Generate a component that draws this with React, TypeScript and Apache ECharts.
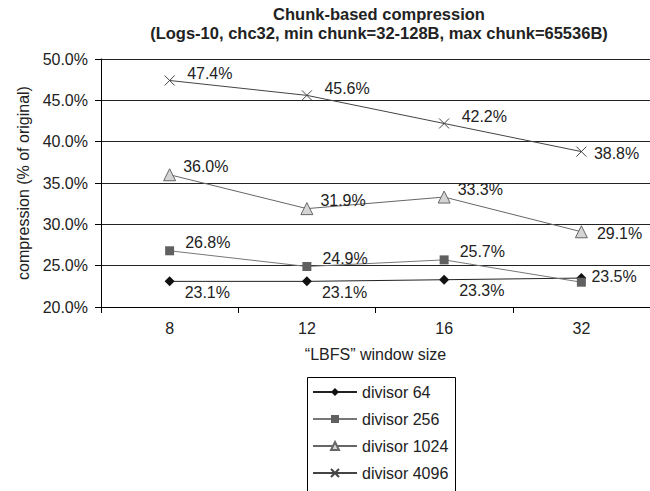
import React, { useEffect, useRef } from "react";
import * as echarts from "echarts";

const categories = ["8", "12", "16", "32"];
const seriesNames = ["divisor 64", "divisor 256", "divisor 1024", "divisor 4096"];
const div64 = [23.1, 23.1, 23.3, 23.5];
const div256 = [26.8, 24.9, 25.7, 23.0];
const div1024 = [36.0, 31.9, 33.3, 29.1];
const div4096 = [47.4, 45.6, 42.2, 38.8];
const yTicks = { min: 20, max: 50, interval: 5 };
const titleLines = [
  "Chunk-based compression",
  "(Logs-10, chc32, min chunk=32-128B, max chunk=65536B)",
];

const FONT = "Liberation Sans, Arial, sans-serif";
const fmt = (v: number) => `${v.toFixed(1)}%`;

export default function App() {
  const ref = useRef<HTMLDivElement>(null);
  useEffect(() => {
    if (!ref.current) return;
    const chart = echarts.init(ref.current, undefined, { renderer: "svg" });
    const labelBase = {
      show: true,
      position: "right" as const,
      fontSize: 16,
      fontFamily: FONT,
      color: "#222",
      formatter: (p: any) => fmt(p.value),
    };
    const mk = (vals: number[], lastOffset: number[], hideLast = false) =>
      vals.map((v, i) =>
        i === vals.length - 1
          ? { value: v, label: hideLast ? { show: false } : { offset: lastOffset } }
          : v
      );
    chart.setOption({
      animation: false,
      backgroundColor: "#fff",
      textStyle: { fontFamily: FONT },
      graphic: [
        ...titleLines.map((t, i) => ({
          type: "text",
          x: 379,
          y: 14 + i * 19,
          style: {
            text: t,
            fill: "#222",
            font: `bold 16.5px ${FONT}`,
            textAlign: "center",
            textVerticalAlign: "middle",
          },
        })),
        {
          type: "rect",
          shape: { x: 307.5, y: 377.5, width: 148, height: 130 },
          style: { fill: "none", stroke: "#000", lineWidth: 1 },
          silent: true,
        },
      ],
      grid: { left: 101, right: -9, top: 59, bottom: 184, containLabel: false },
      legend: {
        orient: "vertical",
        left: 307,
        top: 377,
        data: seriesNames,
        borderWidth: 0,
        padding: [7, 10, 0, 5],
        itemGap: 11,
        itemWidth: 44,
        itemHeight: 10,
        textStyle: { fontSize: 16, color: "#222", fontFamily: FONT },
      },
      xAxis: {
        type: "category",
        data: categories,
        boundaryGap: true,
        name: "\u201cLBFS\u201d window size",
        nameLocation: "middle",
        nameGap: 39,
        nameTextStyle: { fontSize: 16, color: "#222", fontFamily: FONT },
        axisLine: { lineStyle: { color: "#000", width: 1 } },
        axisTick: { show: true, length: 6, lineStyle: { color: "#000" } },
        axisLabel: { fontSize: 16, color: "#222", margin: 13, fontFamily: FONT },
        splitLine: { show: false },
      },
      yAxis: {
        type: "value",
        min: yTicks.min,
        max: yTicks.max,
        interval: yTicks.interval,
        name: "compression (% of original)",
        nameLocation: "middle",
        nameRotate: 90,
        nameGap: 70,
        nameTextStyle: { fontSize: 16, color: "#222", fontFamily: FONT },
        axisLine: { show: true, lineStyle: { color: "#000", width: 1 } },
        axisTick: { show: true, length: 6, lineStyle: { color: "#000" } },
        axisLabel: { fontSize: 16, color: "#222", margin: 13, formatter: (v: number) => fmt(v), fontFamily: FONT },
        splitLine: { show: true, lineStyle: { color: "#222", width: 1 } },
      },
      series: [
        {
          name: seriesNames[0],
          type: "line",
          data: mk(div64, [0, -2]),
          symbol: "diamond",
          symbolSize: 10,
          itemStyle: { color: "#111" },
          lineStyle: { color: "#222", width: 1 },
          label: { ...labelBase, offset: [5, 11] },
          z: 2,
        },
        {
          name: seriesNames[1],
          type: "line",
          data: mk(div256, [0, 0], true),
          symbol: "rect",
          symbolSize: 9,
          itemStyle: { color: "#606060" },
          lineStyle: { color: "#777", width: 1 },
          label: { ...labelBase, offset: [6, -8] },
          z: 3,
        },
        {
          name: seriesNames[2],
          type: "line",
          data: mk(div1024, [4, 2]),
          symbol: "triangle",
          symbolSize: 12,
          itemStyle: { color: "#d4d4d4", borderColor: "#666", borderWidth: 1 },
          lineStyle: { color: "#666", width: 1 },
          label: { ...labelBase, offset: [2, -8] },
          z: 3,
        },
        {
          name: seriesNames[3],
          type: "line",
          data: mk(div4096, [0, 2]),
          symbol: "path://M0,0L10,10M10,0L0,10",
          symbolSize: 10,
          itemStyle: { color: "none", borderColor: "#444", borderWidth: 1 },
          lineStyle: { color: "#444", width: 1 },
          label: { ...labelBase, offset: [5, -7] },
          z: 3,
        },
      ],
    });
    return () => chart.dispose();
  }, []);
  return (
    <div
      ref={ref}
      style={{ position: "absolute", left: 0, top: 0, width: 650, height: 491, overflow: "hidden" }}
    />
  );
}
